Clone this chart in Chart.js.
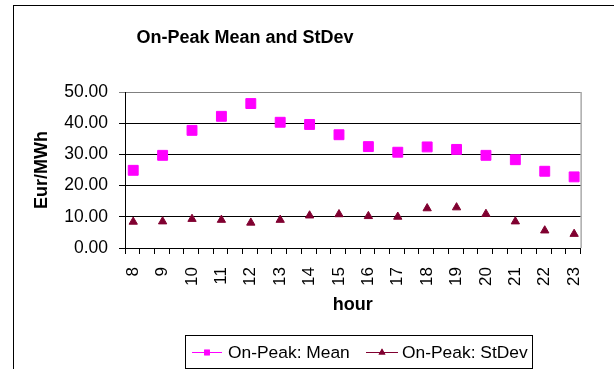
<!DOCTYPE html>
<html lang="en">
<head>
    <meta charset="UTF-8">
    <title>On-Peak Mean and StDev</title>
    <style>
        body {
            margin: 0;
            background: #fff;
            overflow: hidden;
        }
        #frame {
            position: absolute;
            left: 13px;
            top: 5px;
            width: 700px;
            height: 400px;
            border-left: 1px solid #000;
            border-top: 1px solid #000;
        }
        #chart-container {
            position: absolute;
            left: 0;
            top: 0;
            width: 614px;
            height: 369px;
        }
    </style>
</head>
<body>
    <div id="frame"></div>
    <div id="chart-container">
        <canvas id="chart" width="614" height="369"></canvas>
    </div>

    <script src="https://cdn.jsdelivr.net/npm/chart.js"></script>
    <script>
        const chartTitle = 'On-Peak Mean and StDev';
        const hours = [8, 9, 10, 11, 12, 13, 14, 15, 16, 17, 18, 19, 20, 21, 22, 23];
        const meanValues = [24.9, 29.7, 37.7, 42.2, 46.3, 40.3, 39.6, 36.3, 32.5, 30.7, 32.4, 31.6, 29.7, 28.3, 24.6, 22.8];
        const stdevValues = [8.4, 8.5, 9.3, 9.0, 8.1, 9.0, 10.4, 10.8, 10.2, 10.0, 12.7, 13.0, 10.9, 8.5, 5.6, 4.5];
        const yTicks = [0, 10, 20, 30, 40, 50];

        const meanColor = '#ff00ff';
        const stdevColor = '#800030';
        const font = 'Arial, "Liberation Sans", sans-serif';

        // title and boxed legend in the old spreadsheet style
        const extras = {
            id: 'extras',
            afterDraw(chart) {
                const ctx = chart.ctx;
                const area = chart.chartArea;
                ctx.save();

                // grey right edge of the plot area
                ctx.strokeStyle = '#808080';
                ctx.lineWidth = 1;
                ctx.beginPath();
                ctx.moveTo(area.right + 0.5, area.top);
                ctx.lineTo(area.right + 0.5, area.bottom);
                ctx.stroke();

                ctx.fillStyle = '#000';
                ctx.font = 'bold 18px ' + font;
                ctx.textAlign = 'center';
                ctx.textBaseline = 'middle';
                ctx.fillText(chartTitle, 245, 38);

                // legend box
                ctx.strokeStyle = '#000';
                ctx.strokeRect(185.5, 335.5, 347, 33);
                ctx.font = '17.4px ' + font;
                ctx.textAlign = 'left';
                const items = [
                    {x0: 192, x1: 222, ds: chart.data.datasets[0], tx: 228},
                    {x0: 366, x1: 398, ds: chart.data.datasets[1], tx: 402}
                ];
                const ly = 352.5;
                items.forEach(it => {
                    ctx.strokeStyle = it.ds.borderColor;
                    ctx.beginPath();
                    ctx.moveTo(it.x0, ly);
                    ctx.lineTo(it.x1, ly);
                    ctx.stroke();
                    ctx.fillStyle = it.ds.pointBackgroundColor;
                    Chart.helpers.drawPoint(ctx, {pointStyle: it.ds.pointStyle, radius: 4}, (it.x0 + it.x1) / 2, ly);
                    ctx.fill();
                    ctx.fillStyle = '#000';
                    ctx.fillText(it.ds.label, it.tx, ly + 1);
                });
                ctx.restore();
            }
        };

        const ctx = document.getElementById('chart').getContext('2d');
        new Chart(ctx, {
            type: 'scatter',
            data: {
                datasets: [{
                    label: 'On-Peak: Mean',
                    data: hours.map((h, i) => ({x: h, y: meanValues[i]})),
                    borderColor: meanColor,
                    backgroundColor: meanColor,
                    pointBackgroundColor: meanColor,
                    pointStyle: 'rect',
                    pointRadius: 7,
                    borderWidth: 1,
                    showLine: false
                }, {
                    label: 'On-Peak: StDev',
                    data: hours.map((h, i) => ({x: h, y: stdevValues[i]})),
                    borderColor: stdevColor,
                    backgroundColor: stdevColor,
                    pointBackgroundColor: stdevColor,
                    pointStyle: 'triangle',
                    pointRadius: 4.8,
                    borderWidth: 1,
                    showLine: false
                }]
            },
            options: {
                responsive: false,
                animation: false,
                layout: {
                    padding: {left: 0, right: 11, top: 92, bottom: 51}
                },
                plugins: {
                    legend: {display: false},
                    title: {display: false},
                    tooltip: {enabled: false}
                },
                scales: {
                    x: {
                        type: 'linear',
                        min: 7.72,
                        max: 23.22,
                        afterBuildTicks: axis => {
                            const ticks = hours.map(h => ({value: h}));
                            for (let k = 0; k < 32; k++) {
                                ticks.push({value: 7.72 + 0.5 * k});
                            }
                            ticks.sort((a, b) => a.value - b.value);
                            axis.ticks = ticks;
                        },
                        afterFit: axis => { axis.height = 70; },
                        border: {color: '#000', width: 1},
                        grid: {
                            drawOnChartArea: false,
                            tickLength: 6,
                            color: c => Number.isInteger(c.tick.value) ? 'rgba(0,0,0,0)' : '#000'
                        },
                        ticks: {
                            autoSkip: false,
                            minRotation: 90,
                            maxRotation: 90,
                            padding: 13,
                            color: '#000',
                            font: {family: font, size: 17},
                            callback: v => Number.isInteger(v) ? String(v) : ''
                        },
                        title: {
                            display: true,
                            text: 'hour',
                            color: '#000',
                            font: {family: font, size: 18, weight: 'bold'},
                            padding: {top: 0, bottom: 2}
                        }
                    },
                    y: {
                        min: 0,
                        max: 50,
                        afterBuildTicks: axis => {
                            axis.ticks = yTicks.map(v => ({value: v}));
                        },
                        afterFit: axis => { axis.width = 125; },
                        border: {color: '#000', width: 1},
                        grid: {
                            tickLength: 6,
                            color: c => c.tick.value === 50 ? '#808080' : '#000'
                        },
                        ticks: {
                            padding: 11,
                            color: '#000',
                            font: {family: font, size: 17.5},
                            callback: v => v.toFixed(2)
                        },
                        title: {
                            display: true,
                            text: 'Eur/MWh',
                            color: '#000',
                            font: {family: font, size: 18, weight: 'bold'},
                            padding: {top: 31, bottom: 0}
                        }
                    }
                }
            },
            plugins: [extras]
        });
    </script>
</body>
</html>
